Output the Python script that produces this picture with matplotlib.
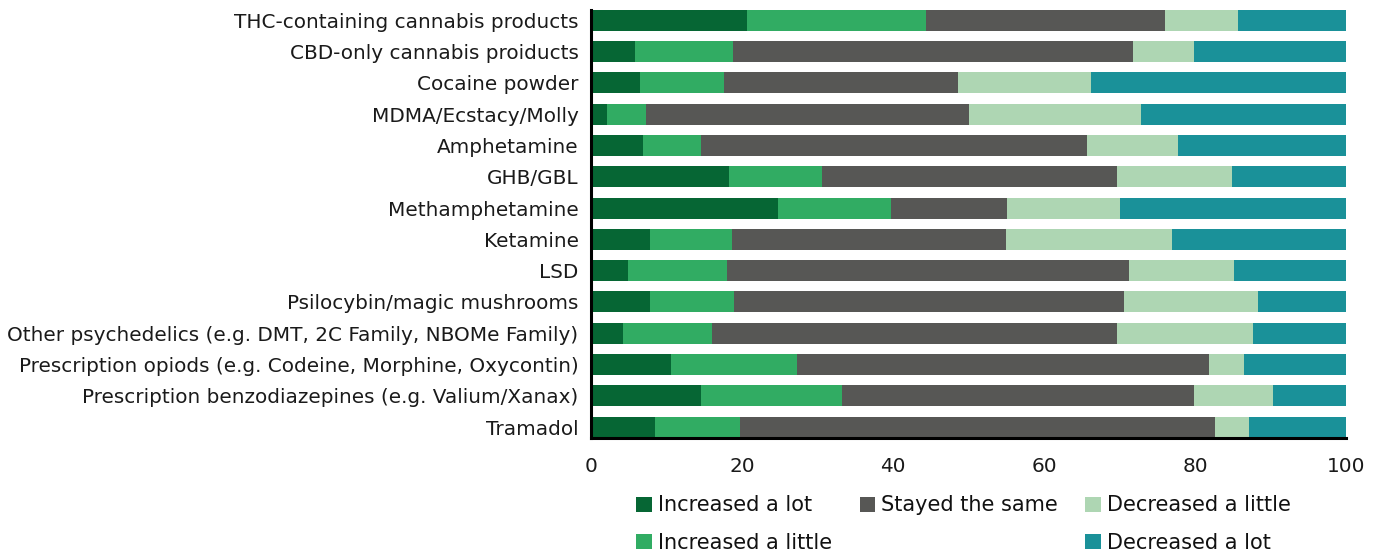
import matplotlib
matplotlib.use("Agg")
import matplotlib.pyplot as plt
from matplotlib.patches import Patch
import numpy as np

categories = [
    "THC-containing cannabis products",
    "CBD-only cannabis proiducts",
    "Cocaine powder",
    "MDMA/Ecstacy/Molly",
    "Amphetamine",
    "GHB/GBL",
    "Methamphetamine",
    "Ketamine",
    "LSD",
    "Psilocybin/magic mushrooms",
    "Other psychedelics (e.g. DMT, 2C Family, NBOMe Family)",
    "Prescription opiods (e.g. Codeine, Morphine, Oxycontin)",
    "Prescription benzodiazepines (e.g. Valium/Xanax)",
    "Tramadol",
]

increased_a_lot = [20.7, 5.8, 6.5, 2.1, 6.9, 18.3, 24.8, 7.8, 4.9, 7.8, 4.2, 10.6, 14.6, 8.5]
increased_a_little = [23.7, 13.0, 11.1, 5.2, 7.7, 12.3, 14.9, 10.9, 13.1, 11.1, 11.8, 16.7, 18.6, 11.2]
stayed_the_same = [31.6, 53.0, 31.0, 42.8, 51.1, 39.1, 15.4, 36.3, 53.3, 51.7, 53.7, 54.6, 46.7, 62.9]
decreased_a_little = [9.7, 8.1, 17.6, 22.7, 12.0, 15.2, 15.0, 22.0, 13.9, 17.7, 18.0, 4.6, 10.4, 4.6]
decreased_a_lot = [14.3, 20.1, 33.8, 27.2, 22.3, 15.1, 29.9, 23.0, 14.8, 11.7, 12.3, 13.5, 9.7, 12.8]

series = [
    ("Increased a lot", increased_a_lot, "#066634"),
    ("Increased a little", increased_a_little, "#31AC63"),
    ("Stayed the same", stayed_the_same, "#575755"),
    ("Decreased a little", decreased_a_little, "#AED6B3"),
    ("Decreased a lot", decreased_a_lot, "#1A9199"),
]
xticks = [0, 20, 40, 60, 80, 100]

plt.rcParams['font.family'] = ['DejaVu Sans']

fig = plt.figure(figsize=(13.76, 5.54), dpi=100)
ax = fig.add_axes([591 / 1376, 1 - 438 / 554, (1346 - 591) / 1376, 428 / 554])

y = np.arange(len(categories))
left = np.zeros(len(categories))
handles = {}
for name, vals, color in series:
    v = np.array(vals)
    ax.barh(y, v, left=left, height=0.67, color=color, label=name)
    left += v
    handles[name] = Patch(facecolor=color, edgecolor='none')

ax.set_xlim(0, 100)
ax.set_ylim(13.35, -0.33)
ax.set_yticks(y)
ax.set_yticklabels(categories, fontsize=14.4, color='#1a1a1a')
ax.set_xticks(xticks)
ax.set_xticklabels([str(t) for t in xticks], fontsize=14.4, color='#1a1a1a')
ax.tick_params(axis='both', length=0)
ax.tick_params(axis='y', pad=9)
ax.tick_params(axis='x', pad=14)
for s in ['top', 'right']:
    ax.spines[s].set_visible(False)
for s in ['left', 'bottom']:
    ax.spines[s].set_linewidth(2.2)
    ax.spines[s].set_color('black')

blank = Patch(facecolor='none', edgecolor='none')
h = [handles["Increased a lot"], handles["Increased a little"],
     handles["Stayed the same"], blank,
     handles["Decreased a little"], handles["Decreased a lot"]]
l = ["Increased a lot", "Increased a little", "Stayed the same", "",
     "Decreased a little", "Decreased a lot"]
leg = fig.legend(h, l, ncol=3, loc='upper left', bbox_to_anchor=(626 / 1376, 1 - 485 / 554),
                 frameon=False, fontsize=15, handlelength=0.75, handleheight=0.75,
                 handletextpad=0.3, columnspacing=1.3, labelspacing=0.85, borderpad=0)
for t in leg.get_texts():
    t.set_color('#111111')

fig.savefig("out.png", dpi=100)
